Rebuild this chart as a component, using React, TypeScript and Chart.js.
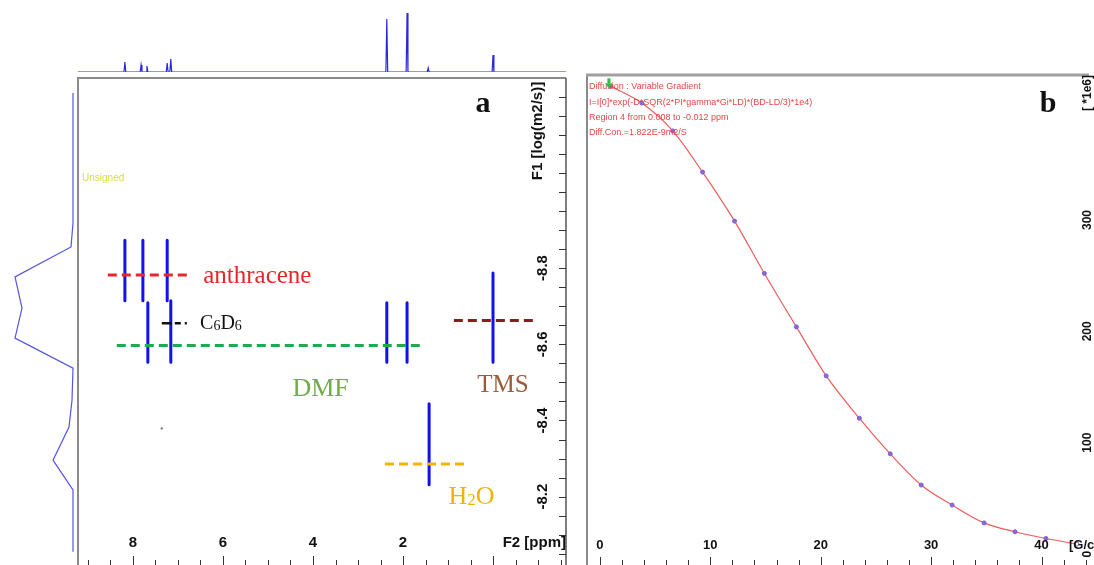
import { useEffect, useRef } from "react";
import { Chart, registerables } from "chart.js";
Chart.register(...registerables);

const WIDTH = 1094;
const HEIGHT = 565;

// ---------- 1D 1H spectrum (top trace) ----------
const spectrumPeakPpm = [8.18, 7.82, 7.69, 7.24, 7.16, 2.36, 1.91, 1.44, 0.0];
const spectrumPeakHeight = [10, 7, 6, 9, 13, 53, 59, 4, 17];

// ---------- Diffusion projection (left trace) ----------
const projectionLogD = [-9.26, -8.922, -8.86, -8.782, -8.701, -8.623, -8.545, -8.462, -8.392, -8.306, -8.229, -8.068];
const projectionIntensity = [0, 0, 2, 58, 51, 58, 0, 1, 4, 20, 0, 0];

// ---------- DOSY cross peaks ----------
const crossPeakPpm = [8.18, 7.78, 7.24, 7.67, 7.16, 2.36, 1.91, 0.0, 1.42];
const crossPeakLogDFrom = [-8.873, -8.873, -8.873, -8.709, -8.714, -8.709, -8.709, -8.787, -8.444];
const crossPeakLogDTo = [-8.714, -8.714, -8.714, -8.553, -8.553, -8.553, -8.553, -8.553, -8.231];
const noisePpm = [7.36];
const noiseLogD = [-8.379];

// ---------- Component guide lines ----------
const componentNames = ["anthracene", "C6D6", "DMF", "TMS", "H2O"];
const componentLogD = [-8.782, -8.655, -8.597, -8.662, -8.286];
const componentPpmFrom = [8.56, 7.36, 8.36, 0.87, 2.4];
const componentPpmTo = [6.73, 6.78, 1.58, -0.96, 0.6];

// ---------- Axis ticks ----------
const ppmTickLabels = [8, 6, 4, 2];
const logDTickLabels = [-8.8, -8.6, -8.4, -8.2];
const gradientTickLabels = [0, 10, 20, 30, 40];
const intensityTickLabels = [0, 100, 200, 300];

// ---------- Diffusion decay (panel b) ----------
const gradientStrength = [1.0, 3.8, 6.6, 9.3, 12.2, 14.9, 17.8, 20.5, 23.5, 26.3, 29.1, 31.9, 34.8, 37.6, 40.4, 43.2];
const signalIntensity = [420, 405, 380, 343, 299, 252, 204, 160, 122, 90, 62, 44, 28, 20, 14, 9];
const fitInfoLines = [
  "Diffusion : Variable Gradient",
  "I=I[0]*exp(-D*SQR(2*PI*gamma*Gi*LD)*(BD-LD/3)*1e4)",
  "Region 4 from 0.008 to -0.012 ppm",
  "Diff.Con.=1.822E-9m2/S",
];

// ---------- Scale ranges ----------
const PPM_LEFT = 9.222;
const PPM_RIGHT = -1.622;
const LOGD_TOP = -9.2987;
const LOGD_BOTTOM = -8.0338;

// ---------- Styles ----------
const componentColors = ["#e8262b", "#111111", "#1faa50", "#8b1c1c", "#f5b400"];
const componentTextColors = ["#e8262a", "#111111", "#70ad47", "#9b5b3b", "#f0b400"];
const componentDash = [[9, 5], [10, 3, 6, 4, 2, 3], [9, 5], [9, 5], [9, 5]];
const SANS = "'Liberation Sans', Arial, sans-serif";
const SERIF = "'Liberation Serif', 'Times New Roman', serif";

const baseOptions = (padding: any, scales: any, plugin?: any) => ({
  responsive: false,
  maintainAspectRatio: false,
  animation: false as const,
  devicePixelRatio: 1,
  events: [] as any[],
  layout: { padding },
  plugins: { legend: { display: false }, tooltip: { enabled: false } },
  scales,
});

function rotatedText(ctx: CanvasRenderingContext2D, text: string, x: number, y: number) {
  ctx.save();
  ctx.translate(x, y);
  ctx.rotate(-Math.PI / 2);
  ctx.textAlign = "center";
  ctx.textBaseline = "middle";
  ctx.fillText(text, 0, 0);
  ctx.restore();
}

// rich text: parts with [text, fontSize, dy]
function richText(ctx: CanvasRenderingContext2D, parts: [string, number, number][], x: number, y: number, align: "left" | "center", color: string) {
  ctx.save();
  ctx.fillStyle = color;
  ctx.textBaseline = "alphabetic";
  ctx.textAlign = "left";
  let total = 0;
  parts.forEach(([t, s]) => {
    ctx.font = `${s}px ${SERIF}`;
    total += ctx.measureText(t).width;
  });
  let cx = align === "center" ? x - total / 2 : x;
  parts.forEach(([t, s, dy]) => {
    ctx.font = `${s}px ${SERIF}`;
    ctx.fillText(t, cx, y + dy);
    cx += ctx.measureText(t).width;
  });
  ctx.restore();
}

const labelParts: Record<string, [string, number, number][]> = {
  anthracene: [["anthracene", 25, 0]],
  C6D6: [["C", 20, 0], ["6", 14, 1], ["D", 20, 0], ["6", 14, 1]],
  DMF: [["DMF", 26, 0]],
  TMS: [["TMS", 25, 0]],
  H2O: [["H", 26, 0], ["2", 17, 1], ["O", 26, 0]],
};
const labelAnchorPpm = [6.44, 6.51, 3.83, -0.22, 0.48];
const labelAnchorLogD = [-8.761, -8.639, -8.465, -8.475, -8.182];
const labelAlign: ("left" | "center")[] = ["left", "left", "center", "center", "center"];

const topSpectrumPlugin = { id: "topSpectrum" };

const panelAPlugin = {
  id: "panelA",
  afterDraw(chart: any) {
    const { ctx, chartArea: a, scales } = chart;
    const xs = scales.x;
    const ys = scales.y;
    ctx.save();
    // frame
    ctx.strokeStyle = "#8a8a8a";
    ctx.lineWidth = 2;
    ctx.beginPath();
    ctx.moveTo(a.left, HEIGHT);
    ctx.lineTo(a.left, a.top);
    ctx.lineTo(a.right, a.top);
    ctx.stroke();
    ctx.strokeStyle = "#555";
    ctx.lineWidth = 1.5;
    ctx.beginPath();
    ctx.moveTo(a.right, a.top);
    ctx.lineTo(a.right, HEIGHT);
    ctx.stroke();
    // x ticks (every 0.5 ppm)
    ctx.strokeStyle = "#333";
    ctx.lineWidth = 1;
    for (let v = -1.5; v <= 9.01; v += 0.5) {
      const px = Math.round(xs.getPixelForValue(v)) + 0.5;
      const major = Math.abs(v % 2) < 0.01;
      ctx.beginPath();
      ctx.moveTo(px, HEIGHT);
      ctx.lineTo(px, HEIGHT - (major ? 9 : 5));
      ctx.stroke();
    }
    // y ticks (every 0.05)
    for (let v = -9.25; v <= -8.049; v += 0.05) {
      const py = Math.round(ys.getPixelForValue(v)) + 0.5;
      ctx.beginPath();
      ctx.moveTo(a.right - 7, py);
      ctx.lineTo(a.right, py);
      ctx.stroke();
    }
    // tick labels
    ctx.fillStyle = "#111";
    ctx.font = `bold 15px ${SANS}`;
    ctx.textAlign = "center";
    ctx.textBaseline = "middle";
    ppmTickLabels.forEach((v) => ctx.fillText(String(v), xs.getPixelForValue(v), 543));
    ctx.textAlign = "right";
    ctx.fillText("F2 [ppm]", a.right, 543);
    logDTickLabels.forEach((v) => rotatedText(ctx, v.toFixed(1), a.right - 23, ys.getPixelForValue(v)));
    rotatedText(ctx, "F1 [log(m2/s)]", a.right - 28, 131);
    // panel letter
    ctx.font = `bold 30px ${SERIF}`;
    ctx.textAlign = "center";
    ctx.textBaseline = "alphabetic";
    ctx.fillText("a", a.right - 83, 112);
    // Unsigned
    ctx.font = `10px ${SANS}`;
    ctx.fillStyle = "#d4e04a";
    ctx.textAlign = "left";
    ctx.textBaseline = "middle";
    ctx.fillText("Unsigned", a.left + 4, 178);
    ctx.restore();
    // component labels
    componentNames.forEach((n, i) => {
      richText(ctx, labelParts[n], xs.getPixelForValue(labelAnchorPpm[i]), ys.getPixelForValue(labelAnchorLogD[i]), labelAlign[i], componentTextColors[i]);
    });
  },
};

const panelBPlugin = {
  id: "panelB",
  afterDraw(chart: any) {
    const { ctx, chartArea: a, scales } = chart;
    const xs = scales.x;
    const ys = scales.y;
    ctx.save();
    ctx.strokeStyle = "#8a8a8a";
    ctx.lineWidth = 2;
    ctx.beginPath();
    ctx.moveTo(a.left + 1, HEIGHT);
    ctx.lineTo(a.left + 1, a.top);
    ctx.stroke();
    ctx.strokeStyle = "#a0a0a0";
    ctx.lineWidth = 3;
    ctx.beginPath();
    ctx.moveTo(a.left, a.top - 1);
    ctx.lineTo(a.right, a.top - 1);
    ctx.stroke();
    // x ticks every 2
    ctx.strokeStyle = "#333";
    ctx.lineWidth = 1;
    for (let v = 0; v <= 44; v += 2) {
      const px = Math.round(xs.getPixelForValue(v)) + 0.5;
      const major = v % 10 === 0;
      ctx.beginPath();
      ctx.moveTo(px, HEIGHT);
      ctx.lineTo(px, HEIGHT - (major ? 8 : 5));
      ctx.stroke();
    }
    ctx.fillStyle = "#111";
    ctx.font = `bold 13px ${SANS}`;
    ctx.textAlign = "center";
    ctx.textBaseline = "middle";
    gradientTickLabels.forEach((v) => ctx.fillText(String(v), xs.getPixelForValue(v), 545));
    ctx.textAlign = "left";
    ctx.fillText("[G/cm]", 1069, 545);
    ctx.font = `bold 12px ${SANS}`;
    intensityTickLabels.forEach((v) => rotatedText(ctx, String(v), 1088, ys.getPixelForValue(v)));
    rotatedText(ctx, "[ *1e6]", 1088, 93);
    // fit info
    ctx.fillStyle = "#e84646";
    ctx.font = `9px ${SANS}`;
    ctx.textAlign = "left";
    ctx.textBaseline = "middle";
    fitInfoLines.forEach((t, i) => ctx.fillText(t, a.left + 3, 87 + i * 15.2));
    // panel letter
    ctx.fillStyle = "#111";
    ctx.font = `bold 30px ${SERIF}`;
    ctx.textAlign = "center";
    ctx.textBaseline = "alphabetic";
    ctx.fillText("b", 1048, 112);
    // green marker at first point
    const px = xs.getPixelForValue(gradientStrength[0]) - 2;
    const py = ys.getPixelForValue(signalIntensity[0]);
    ctx.fillStyle = "#22c04a";
    ctx.fillRect(px - 1.5, py - 8, 3, 5);
    ctx.beginPath();
    ctx.moveTo(px - 4, py - 3);
    ctx.lineTo(px + 4, py - 3);
    ctx.lineTo(px, py + 2);
    ctx.closePath();
    ctx.fill();
    ctx.restore();
  },
};

export default function App() {
  const topRef = useRef<HTMLCanvasElement>(null);
  const leftRef = useRef<HTMLCanvasElement>(null);
  const aRef = useRef<HTMLCanvasElement>(null);
  const bRef = useRef<HTMLCanvasElement>(null);

  useEffect(() => {
    const charts: Chart[] = [];

    // top spectrum
    const spectrumPoints: { x: number; y: number }[] = [{ x: PPM_LEFT, y: 0 }];
    spectrumPeakPpm.forEach((p, i) => {
      spectrumPoints.push({ x: p + 0.02, y: 0 }, { x: p, y: spectrumPeakHeight[i] }, { x: p - 0.02, y: 0 });
    });
    spectrumPoints.push({ x: PPM_RIGHT, y: 0 });
    charts.push(
      new Chart(topRef.current!, {
        type: "scatter",
        data: {
          datasets: [
            { data: spectrumPoints, showLine: true, pointRadius: 0, borderColor: "#2b2bd6", borderWidth: 1.2, tension: 0 },
          ],
        },
        options: baseOptions(
          { left: 78, right: WIDTH - 566, top: 10, bottom: HEIGHT - 72 },
          {
            x: { type: "linear", display: false, min: PPM_RIGHT, max: PPM_LEFT, reverse: true },
            y: { type: "linear", display: false, min: 0, max: 62 },
          }
        ) as any,
        plugins: [topSpectrumPlugin],
      })
    );

    // left projection
    charts.push(
      new Chart(leftRef.current!, {
        type: "scatter",
        data: {
          datasets: [
            {
              data: projectionLogD.map((d, i) => ({ x: projectionIntensity[i], y: d })),
              showLine: true,
              pointRadius: 0,
              borderColor: "#5555e0",
              borderWidth: 1.2,
            },
          ],
        },
        options: baseOptions(
          { left: 0, right: WIDTH - 78, top: 78, bottom: 0 },
          {
            x: { type: "linear", display: false, min: -5, max: 73, reverse: true },
            y: { type: "linear", display: false, min: LOGD_TOP, max: LOGD_BOTTOM, reverse: true },
          }
        ) as any,
      })
    );

    // panel a
    const streakSets = crossPeakPpm.map((p, i) => ({
      data: [
        { x: p, y: crossPeakLogDFrom[i] },
        { x: p, y: crossPeakLogDTo[i] },
      ],
      showLine: true,
      pointRadius: 0,
      borderColor: "#1212ee",
      borderWidth: 3,
      borderCapStyle: "round" as const,
      order: 2,
    }));
    const guideSets = componentNames.map((_, i) => ({
      data: [
        { x: componentPpmFrom[i], y: componentLogD[i] },
        { x: componentPpmTo[i], y: componentLogD[i] },
      ],
      showLine: true,
      pointRadius: 0,
      borderColor: componentColors[i],
      borderWidth: i === 1 ? 2.5 : 3,
      borderDash: componentDash[i],
      order: 1,
    }));
    const noiseSet = {
      data: noisePpm.map((p, i) => ({ x: p, y: noiseLogD[i] })),
      showLine: false,
      pointRadius: 0.8,
      backgroundColor: "#777",
      borderColor: "#777",
      order: 3,
    };
    charts.push(
      new Chart(aRef.current!, {
        type: "scatter",
        data: { datasets: [...guideSets, ...streakSets, noiseSet] as any },
        options: baseOptions(
          { left: 78, right: WIDTH - 566, top: 78, bottom: 0 },
          {
            x: { type: "linear", display: false, min: PPM_RIGHT, max: PPM_LEFT, reverse: true },
            y: { type: "linear", display: false, min: LOGD_TOP, max: LOGD_BOTTOM, reverse: true },
          }
        ) as any,
        plugins: [panelAPlugin],
      })
    );

    // panel b
    const decay = gradientStrength.map((g, i) => ({ x: g, y: signalIntensity[i] }));
    const last = decay.length - 1;
    charts.push(
      new Chart(bRef.current!, {
        type: "scatter",
        data: {
          datasets: [
            {
              data: decay,
              showLine: false,
              pointRadius: 2,
              pointBorderWidth: 1,
              pointBackgroundColor: (c: any) => (c.dataIndex === last ? "#ffffff" : "#8a6ad6"),
              pointBorderColor: "#7a5cd0",
              order: 1,
            },
            {
              data: decay,
              showLine: true,
              pointRadius: 0,
              borderColor: "#ee5c5c",
              borderWidth: 1.2,
              cubicInterpolationMode: "monotone",
              order: 2,
            },
          ] as any,
        },
        options: baseOptions(
          { left: 586, right: 0, top: 76, bottom: 0 },
          {
            x: { type: "linear", display: false, min: -1.256, max: 44.3 },
            y: { type: "linear", display: false, min: -5.33, max: 429.3 },
          }
        ) as any,
        plugins: [panelBPlugin],
      })
    );

    return () => charts.forEach((c) => c.destroy());
  }, []);

  const canvasStyle: React.CSSProperties = { position: "absolute", left: 0, top: 0 };
  return (
    <div style={{ position: "fixed", left: 0, top: 0, width: WIDTH, height: HEIGHT, background: "#fff", overflow: "hidden" }}>
      <canvas ref={topRef} width={WIDTH} height={HEIGHT} style={canvasStyle} />
      <canvas ref={leftRef} width={WIDTH} height={HEIGHT} style={canvasStyle} />
      <canvas ref={aRef} width={WIDTH} height={HEIGHT} style={canvasStyle} />
      <canvas ref={bRef} width={WIDTH} height={HEIGHT} style={canvasStyle} />
    </div>
  );
}
